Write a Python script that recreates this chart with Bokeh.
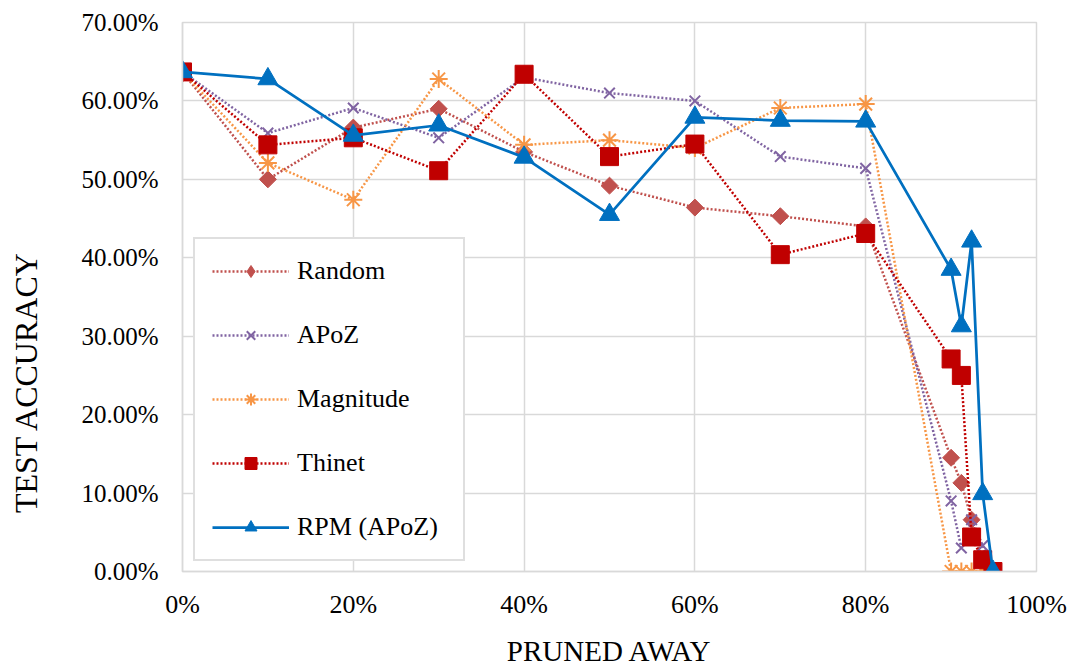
import math
from bokeh.plotting import figure
from bokeh.layouts import row
from bokeh.models import (FixedTicker, NumeralTickFormatter, Legend, LegendItem, Range1d,
                          CDSView, IndexFilter)
from bokeh.core.properties import value
from bokeh.embed import file_html
from bokeh.resources import INLINE

# ---- data ----
pruned = [0.0, 0.10, 0.20, 0.30, 0.40, 0.50, 0.60, 0.70, 0.80, 0.900, 0.912, 0.924, 0.937, 0.949]

random_acc    = [0.637, 0.500, 0.566, 0.590, 0.535, 0.492, 0.464, 0.453, 0.440, 0.145, 0.113, 0.066, 0.012, 0.001]
apoz_acc      = [0.637, 0.559, 0.591, 0.553, 0.630, 0.610, 0.600, 0.529, 0.514, 0.090, 0.030, 0.066, 0.033, 0.000]
magnitude_acc = [0.637, 0.521, 0.474, 0.628, 0.544, 0.550, 0.540, 0.591, 0.596, 0.000, 0.000, 0.000, 0.000, 0.000]
thinet_acc    = [0.637, 0.544, 0.553, 0.511, 0.634, 0.529, 0.545, 0.404, 0.431, 0.271, 0.250, 0.044, 0.015, 0.000]
rpm_acc       = [0.637, 0.628, 0.556, 0.569, 0.528, 0.455, 0.579, 0.575, 0.574, 0.385, 0.313, 0.421, 0.099, 0.000]

series_names = ["Random", "APoZ", "Magnitude", "Thinet", "RPM (APoZ)"]
x_ticks = [0.0, 0.2, 0.4, 0.6, 0.8, 1.0]
y_ticks = [0.0, 0.1, 0.2, 0.3, 0.4, 0.5, 0.6, 0.7]
x_title = "PRUNED AWAY"
y_title = "TEST ACCURACY"

FONT = "Liberation Serif"
GRID = "#D9D9D9"

# ---- left strip holding the vertical axis title ----
LW = 60
pt = figure(width=LW, height=669, output_backend="svg", toolbar_location=None,
            x_range=Range1d(0, LW), y_range=Range1d(0, 669),
            x_axis_type=None, y_axis_type=None, title=None,
            min_border=0, min_border_left=0, min_border_right=0,
            min_border_top=0, min_border_bottom=0)
pt.grid.visible = False
pt.outline_line_color = None
pt.background_fill_color = "white"
pt.border_fill_color = "white"
pt.text(x=[25], y=[231], text=[y_title], angle=math.pi / 2,
        text_font=value(FONT), text_font_size="32px", text_align="center",
        text_baseline="alphabetic", text_color="black")

# ---- main chart ----
p = figure(width=1073 - LW, height=669, output_backend="svg", toolbar_location=None,
           x_range=Range1d(0, 1.0), y_range=Range1d(0, 0.7),
           min_border_left=182 - LW, min_border_right=37, min_border_top=22, min_border_bottom=95)
p.background_fill_color = "white"
p.border_fill_color = "white"
p.outline_line_color = GRID
p.outline_line_width = 1.5

for ax in (p.xaxis[0], p.yaxis[0]):
    ax.axis_line_color = GRID
    ax.axis_line_width = 1.5
    ax.major_tick_line_color = None
    ax.minor_tick_line_color = None
    ax.major_tick_out = 0
    ax.major_tick_in = 0
    ax.major_label_text_font = FONT
    ax.major_label_text_color = "black"

p.xaxis.ticker = FixedTicker(ticks=x_ticks)
p.yaxis.ticker = FixedTicker(ticks=y_ticks)
p.xaxis.formatter = NumeralTickFormatter(format="0%")
p.yaxis.formatter = NumeralTickFormatter(format="0.00%")
p.xaxis.major_label_text_font_size = "26px"
p.yaxis.major_label_text_font_size = "25px"
p.xaxis.major_label_standoff = 18
p.yaxis.major_label_standoff = 24

p.xaxis.axis_label = x_title
p.xaxis.axis_label_text_font = FONT
p.xaxis.axis_label_text_font_size = "29px"
p.xaxis.axis_label_text_font_style = "normal"
p.xaxis.axis_label_text_color = "black"
p.xaxis.axis_label_standoff = 13

p.xgrid.ticker = FixedTicker(ticks=x_ticks)
p.ygrid.ticker = FixedTicker(ticks=y_ticks)
p.xgrid.grid_line_color = GRID
p.ygrid.grid_line_color = GRID
p.xgrid.grid_line_width = 1.5
p.ygrid.grid_line_width = 1.5

dot = dict(line_dash="2 2", line_width=2.5)

r1l = p.line(pruned, random_acc, line_color="#C0504D", **dot)
# legend proxy: only the first point (hidden beneath the other markers at 0%)
r1k = p.scatter(pruned, random_acc, marker="diamond", size=21, fill_color="#C0504D",
                line_color="#C0504D", view=CDSView(filter=IndexFilter(indices=[0])))
r1m = p.scatter(pruned, random_acc, marker="square", angle=math.pi / 4, size=12,
                fill_color="#C0504D", line_color="#C0504D")
r2l = p.line(pruned, apoz_acc, line_color="#8064A2", **dot)
r2m = p.scatter(pruned, apoz_acc, marker="x", size=15, line_color="#8064A2", line_width=2)
r3l = p.line(pruned, magnitude_acc, line_color="#F79646", **dot)
r3m = p.scatter(pruned, magnitude_acc, marker="asterisk", size=18, line_color="#F79646", line_width=2)
r4l = p.line(pruned, thinet_acc, line_color="#C00000", **dot)
r4m = p.scatter(pruned, thinet_acc, marker="square", size=18, fill_color="#C00000", line_color="#C00000")
r5l = p.line(pruned, rpm_acc, line_color="#0070C0", line_width=2.75)
r5m = p.scatter(pruned, rpm_acc, marker="triangle", size=20, fill_color="#0070C0", line_color="#0070C0")

items = [LegendItem(label=series_names[0], renderers=[r1l, r1k]),
         LegendItem(label=series_names[1], renderers=[r2l, r2m]),
         LegendItem(label=series_names[2], renderers=[r3l, r3m]),
         LegendItem(label=series_names[3], renderers=[r4l, r4m]),
         LegendItem(label=series_names[4], renderers=[r5l, r5m])]
legend = Legend(items=items, location=(11, 10), orientation="vertical",
                glyph_width=77, glyph_height=30, label_height=30, label_width=149,
                label_standoff=8, spacing=34, padding=17, margin=0,
                label_text_font=FONT, label_text_font_size="26px", label_text_color="black",
                border_line_color="#BFBFBF", border_line_width=2,
                background_fill_color="white", background_fill_alpha=1.0)
p.add_layout(legend, "center")

layout = row(pt, p, spacing=0)
open("out.html", "w").write(file_html(layout, INLINE))
